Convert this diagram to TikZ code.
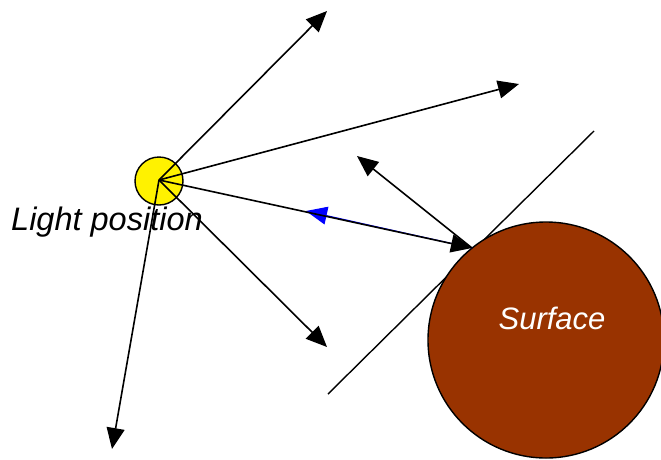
\documentclass[tikz,border=0pt]{standalone}
\usepackage{fontspec}
\setmainfont{Liberation Sans}
\usetikzlibrary{arrows.meta}
\definecolor{brick}{HTML}{993300}
\begin{document}
\begin{tikzpicture}[x=1pt,y=-1pt,
  ray/.style={line width=1.6pt, -{Triangle[length=21pt,width=18pt]}},
  lbl/.style={font=\fontsize{31}{35}\selectfont\itshape, inner sep=0pt},
]
\useasboundingbox (0,0) rectangle (661,459);

% tangent plane at the hit point
\coordinate (t1) at (328,394);
\coordinate (t2) at (594,131);
\draw[line width=1.4pt] (t1) -- (t2);

% the lit object
\node[circle, draw, line width=1.4pt, fill=brick, minimum size=236pt, inner sep=0pt] (surface) at (546,340) {};
\node[lbl, text=white, anchor=base] (surfacelabel) at (552,329) {Surface};

% the light source
\node[circle, draw, line width=1.4pt, fill=yellow, minimum size=48pt, inner sep=0pt] (light) at (159,181) {};
\node[lbl, font=\fontsize{32.5}{36}\selectfont\itshape, anchor=base west] (lightlabel) at (11,230) {Light position};

\coordinate (src) at (159,180);
\coordinate (hit) at (472,248);
\coordinate (u1) at (327,11);
\coordinate (u2) at (519,84);
\coordinate (u3) at (327,347);
\coordinate (u4) at (112,449);
\coordinate (nrm) at (357,156);
\coordinate (lv) at (306,211);

% light vector (blue), under the incoming ray
\draw[blue, line width=1pt, -{Triangle[length=21pt,width=18pt]}] (hit) -- (lv);

% rays leaving the light
\draw[ray] (src) -- (u1);
\draw[ray] (src) -- (u2);
\draw[ray] (src) -- (u3);
\draw[ray] (src) -- (u4);
\draw[ray] (src) -- (hit);

% surface normal
\draw[ray] (hit) -- (nrm);
\end{tikzpicture}
\end{document}
